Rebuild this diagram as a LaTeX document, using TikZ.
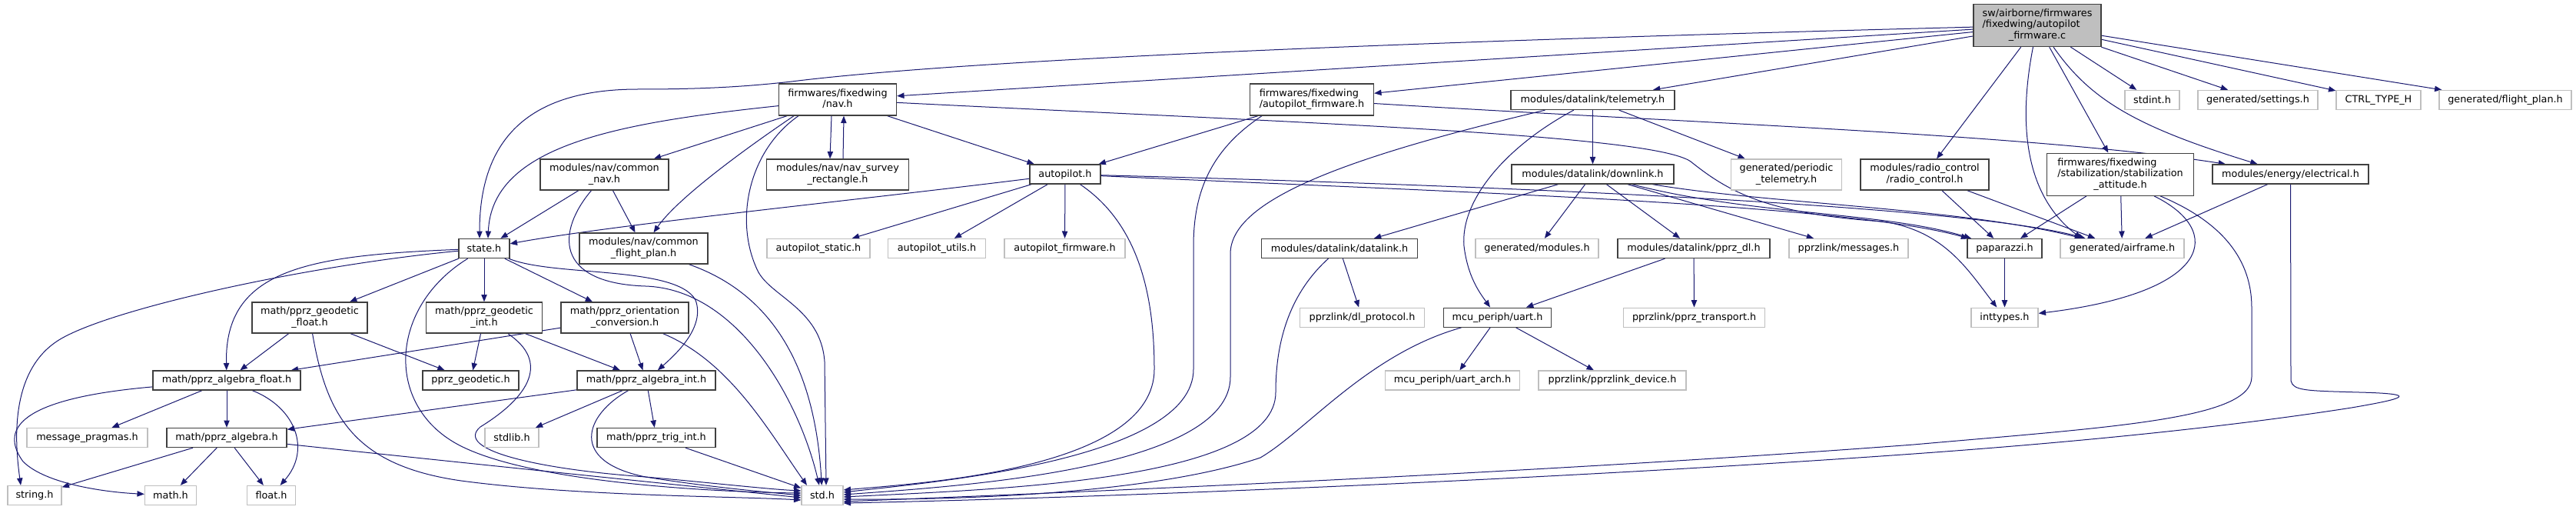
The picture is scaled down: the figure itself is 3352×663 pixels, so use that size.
\documentclass[tikz,border=0pt]{standalone}
\usepackage{fontspec}
\setmainfont{DejaVu Sans}
\usetikzlibrary{arrows.meta,calc}
\pgfdeclarelayer{edgelayer}
\pgfsetlayers{edgelayer,main}
\definecolor{edgeblue}{HTML}{191970}
\definecolor{docgray}{HTML}{404040}
\definecolor{extgray}{HTML}{BFBFBF}
\definecolor{mainfill}{HTML}{BFBFBF}
\newcommand\twol[2]{\begin{tabular}{@{}l@{}}#1\\\multicolumn{1}{@{}c@{}}{#2}\end{tabular}}
\newcommand\threel[3]{\begin{tabular}{@{}l@{}}#1\\#2\\\multicolumn{1}{@{}c@{}}{#3}\end{tabular}}
\begin{document}
\begin{tikzpicture}[x=0.75pt,y=-0.75pt,
 bx/.style 2 args={minimum width=#1*0.75pt,minimum height=#2*0.75pt},
 nd/.style={rectangle,inner sep=0pt,line width=1pt,font=\fontsize{9.6}{10.9}\selectfont,fill=white},
 doc/.style={nd,draw=docgray},
 ext/.style={nd,draw=extgray},
 root/.style={nd,draw=docgray,fill=mainfill},
 dep/.style={draw=edgeblue,line width=0.75pt,-{Triangle[length=7pt,width=5.5pt]}}]
\useasboundingbox (0,0) rectangle (3352,663);
% nodes
\node[root,bx={166}{55}] (main) at (2651,33) {\threel{sw/airborne/firmwares}{/fixedwing/autopilot}{\_firmware.c}};
\node[doc,bx={153}{41}] (navh) at (1090,129.5) {\twol{firmwares/fixedwing}{/nav.h}};
\node[doc,bx={161}{41}] (apfw) at (1707,129.5) {\twol{firmwares/fixedwing}{/autopilot\_firmware.h}};
\node[doc,bx={213}{25}] (telem) at (2072.5,130) {modules/datalink/telemetry.h};
\node[ext,bx={71}{25}] (stdint) at (2800.5,130) {stdint.h};
\node[ext,bx={156}{25}] (settings) at (2938,130) {generated/settings.h};
\node[ext,bx={110}{25}] (ctrl) at (3095,130) {CTRL\_TYPE\_H};
\node[ext,bx={172}{25}] (fplan) at (3260,130) {generated/flight\_plan.h};
\node[doc,bx={167}{40}] (cnav) at (786.5,227) {\twol{modules/nav/common}{\_nav.h}};
\node[doc,bx={185}{40}] (survey) at (1090,227) {\twol{modules/nav/nav\_survey}{\_rectangle.h}};
\node[doc,bx={92}{25}] (ap) at (1386,226.5) {autopilot.h};
\node[doc,bx={211}{25}] (downlink) at (2072.5,226.5) {modules/datalink/downlink.h};
\node[ext,bx={144}{40}] (periodic) at (2324.5,227) {\twol{generated/periodic}{\_telemetry.h}};
\node[doc,bx={167}{40}] (radio) at (2504.5,227) {\twol{modules/radio\_control}{/radio\_control.h}};
\node[doc,bx={191}{55}] (stab) at (2759,226.7) {\threel{firmwares/fixedwing}{/stabilization/stabilization}{\_attitude.h}};
\node[doc,bx={203}{25}] (elec) at (2980.5,226.5) {modules/energy/electrical.h};
\node[doc,bx={66}{25}] (state) at (630,323) {state.h};
\node[doc,bx={167}{40}] (cfp) at (837.5,323) {\twol{modules/nav/common}{\_flight\_plan.h}};
\node[ext,bx={134}{25}] (apstatic) at (1065,323) {autopilot\_static.h};
\node[ext,bx={127}{25}] (aputils) at (1219,323) {autopilot\_utils.h};
\node[ext,bx={157}{25}] (apfirm) at (1385.5,323) {autopilot\_firmware.h};
\node[doc,bx={203}{25}] (datalink) at (1743,323) {modules/datalink/datalink.h};
\node[ext,bx={160}{25}] (modules) at (2000,323) {generated/modules.h};
\node[doc,bx={198}{25}] (pprzdl) at (2204,323) {modules/datalink/pprz\_dl.h};
\node[ext,bx={155}{25}] (messages) at (2405.5,323) {pprzlink/messages.h};
\node[doc,bx={97}{25}] (paparazzi) at (2608.5,323) {paparazzi.h};
\node[ext,bx={161}{25}] (airframe) at (2761.5,323) {generated/airframe.h};
\node[doc,bx={150}{40}] (geofloat) at (403,413) {\twol{math/pprz\_geodetic}{\_float.h}};
\node[doc,bx={151}{40}] (geoint) at (630,413) {\twol{math/pprz\_geodetic}{\_int.h}};
\node[doc,bx={166}{40}] (orient) at (813,413) {\twol{math/pprz\_orientation}{\_conversion.h}};
\node[ext,bx={162}{25}] (dlproto) at (1772.5,412.7) {pprzlink/dl\_protocol.h};
\node[doc,bx={140}{25}] (uart) at (1948.5,412.7) {mcu\_periph/uart.h};
\node[ext,bx={184}{25}] (transport) at (2204.6,412.7) {pprzlink/pprz\_transport.h};
\node[ext,bx={87}{25}] (inttypes) at (2608.5,412.7) {inttypes.h};
\node[doc,bx={192}{25}] (algfloat) at (295,494.5) {math/pprz\_algebra\_float.h};
\node[doc,bx={125}{25}] (geodetic) at (612.5,494.5) {pprz\_geodetic.h};
\node[doc,bx={180}{25}] (algint) at (841,494.5) {math/pprz\_algebra\_int.h};
\node[ext,bx={175}{25}] (uartarch) at (1890,494.5) {mcu\_periph/uart\_arch.h};
\node[ext,bx={192}{25}] (device) at (2098,494.5) {pprzlink/pprzlink\_device.h};
\node[ext,bx={157}{25}] (pragmas) at (113.5,569) {message\_pragmas.h};
\node[doc,bx={156}{25}] (algebra) at (295,569) {math/pprz\_algebra.h};
\node[ext,bx={70}{25}] (stdlib) at (666,569) {stdlib.h};
\node[doc,bx={154}{25}] (trigint) at (854,569) {math/pprz\_trig\_int.h};
\node[ext,bx={70}{25}] (stringh) at (45,644) {string.h};
\node[ext,bx={67}{25}] (mathh) at (222,644) {math.h};
\node[ext,bx={63}{25}] (floath) at (353,644) {float.h};
\node[ext,bx={54}{25}] (std) at (1070,644) {std.h};
\begin{pgfonlayer}{edgelayer}
\fill[white] (0,0) rectangle (3352,663);
% main
\draw[dep] (main) .. controls (1600,60) and (1200,85) .. (1030,106) .. controls (960,114) and (900,116) .. (830,116) .. controls (700,116) and (624,170) .. ($(state.north)+(-6,0)$);
\draw[dep] (main) -- (navh);
\draw[dep] (main) -- (apfw);
\draw[dep] (main) -- (telem);
\draw[dep] (main) -- (radio);
\draw[dep] (main) .. controls (2628,150) and (2630,250) .. ($(airframe.north west)+(28,0)$);
\draw[dep] (main) -- (stab);
\draw[dep] ($(main.south)+(21,0)$) .. controls (2720,130) and (2780,165) .. (elec);
\draw[dep] (main) -- (stdint);
\draw[dep] (main) -- (settings);
\draw[dep] (main) -- (ctrl);
\draw[dep] (main) -- (fplan);
% nav.h
\draw[dep] (navh) .. controls (800,160) and (640,190) .. ($(state.north)+(5,0)$);
\draw[dep] (navh) -- (cnav);
\draw[dep] ($(navh.south)+(-57,0)$) .. controls (960,200) and (880,260) .. ($(cfp.north)+(13,0)$);
\draw[dep] ($(navh.south)+(-51,0)$) .. controls (975,195) and (955,285) .. (985,350) .. controls (1000,385) and (1068,400) .. (1073,470) -- ($(std.north)+(5,0)$);
\draw[dep] ($(navh.south)+(-8,0)$) -- ($(survey.north)+(-10,0)$);
\draw[dep] ($(survey.north)+(7,0)$) -- ($(navh.south)+(8,0)$);
\draw[dep] (navh) -- (ap);
\draw[dep] (navh) .. controls (1700,160) and (2150,175) .. (2200,210) .. controls (2250,250) and (2300,278) .. (2450,288) .. controls (2530,300) and (2560,350) .. (inttypes);
% autopilot_firmware.h (fixedwing)
\draw[dep] (apfw) -- (ap);
\draw[dep] ($(apfw.south)+(-65,0)$) .. controls (1575,195) and (1553,250) .. (1553,320) -- (1553,480) .. controls (1553,600) and (1200,628) .. ($(std.east)+(0,-4)$);
\draw[dep] (apfw) .. controls (2200,160) and (2650,175) .. (elec);
% telemetry
\draw[dep] (telem) -- (downlink);
\draw[dep] (telem) -- (periodic);
\draw[dep] (telem) .. controls (1960,190) and (1900,260) .. (1905,320) .. controls (1910,360) and (1925,380) .. (uart);
\draw[dep] ($(telem.south)+(-62,0)$) .. controls (1750,205) and (1601,260) .. (1601,330) -- (1601,490) .. controls (1601,610) and (1250,632) .. ($(std.east)+(0,-1)$);
% downlink
\draw[dep] (downlink) -- (datalink);
\draw[dep] (downlink) -- (modules);
\draw[dep] (downlink) -- (pprzdl);
\draw[dep] (downlink) -- (messages);
\draw[dep] (downlink) .. controls (2280,280) and (2450,275) .. (paparazzi);
\draw[dep] (downlink) .. controls (2300,265) and (2550,270) .. (airframe);
% autopilot.h
\draw[dep] (ap) .. controls (1100,262) and (800,292) .. (state);
\draw[dep] (ap) -- (apstatic);
\draw[dep] (ap) -- (aputils);
\draw[dep] (ap) -- (apfirm);
\draw[dep] (ap) .. controls (1480,290) and (1502,380) .. (1502,480) .. controls (1502,610) and (1200,628) .. ($(std.east)+(0,-7)$);
\draw[dep] (ap) .. controls (1900,250) and (2400,265) .. (paparazzi);
\draw[dep] (ap) .. controls (1900,240) and (2550,265) .. (airframe);
% common_nav
\draw[dep] (cnav) -- (state);
\draw[dep] (cnav) -- (cfp);
\draw[dep] ($(cnav.south)+(-17,0)$) .. controls (725,300) and (720,368) .. (840,372) .. controls (960,376) and (1040,520) .. ($(std.north)+(-4,0)$);
\draw[dep] (cfp) .. controls (1000,380) and (1060,470) .. (std);
% state.h
\draw[dep] (state) -- (geofloat);
\draw[dep] (state) -- (geoint);
\draw[dep] (state) -- (orient);
\draw[dep] (state) .. controls (400,332) and (292,350) .. (algfloat);
\draw[dep] (state) .. controls (400,345) and (150,400) .. (80,440) .. controls (10,480) and (20,580) .. ($(stringh.north)+(-18,0)$);
\draw[dep] (state) .. controls (505,400) and (500,530) .. (600,580) .. controls (700,630) and (950,640) .. ($(std.west)+(0,-3)$);
\draw[dep] (state) .. controls (720,360) and (880,345) .. (905,390) .. controls (918,425) and (880,460) .. (algint);
% geodetic float / int, orientation
\draw[dep] (geofloat) -- (algfloat);
\draw[dep] (geofloat) -- (geodetic);
\draw[dep] (geofloat) .. controls (425,540) and (460,605) .. (600,625) .. controls (750,645) and (950,645) .. ($(std.west)+(0,6)$);
\draw[dep] (geoint) -- (geodetic);
\draw[dep] (geoint) -- (algint);
\draw[dep] (geoint) .. controls (715,470) and (690,515) .. (625,555) .. controls (590,585) and (700,610) .. (840,620) .. controls (930,628) and (1000,636) .. ($(std.west)+(0,-6)$);
\draw[dep] (orient) -- (algfloat);
\draw[dep] (orient) -- (algint);
\draw[dep] (orient) .. controls (950,470) and (1000,560) .. ($(std.north)+(-20,0)$);
% algebra
\draw[dep] (algfloat) -- (pragmas);
\draw[dep] (algfloat) -- (algebra);
\draw[dep] (algfloat) .. controls (385,530) and (405,585) .. (floath);
\draw[dep] (algfloat) .. controls (60,515) and (-10,545) .. (30,600) .. controls (60,630) and (140,640) .. (mathh);
\draw[dep] (algint) -- (algebra);
\draw[dep] (algint) -- (stdlib);
\draw[dep] (algint) -- (trigint);
\draw[dep] (algint) .. controls (760,540) and (740,600) .. (840,620) .. controls (920,633) and (1000,640) .. ($(std.west)+(0,0)$);
\draw[dep] (algebra) -- (stringh);
\draw[dep] (algebra) -- (mathh);
\draw[dep] (algebra) -- (floath);
\draw[dep] (algebra) .. controls (700,612) and (900,632) .. ($(std.west)+(0,3)$);
\draw[dep] (trigint) -- (std);
% datalink side
\draw[dep] (datalink) -- (dlproto);
\draw[dep] (datalink) .. controls (1680,380) and (1660,440) .. (1660,510) .. controls (1660,625) and (1300,636) .. ($(std.east)+(0,2)$);
\draw[dep] (pprzdl) -- (uart);
\draw[dep] (pprzdl) -- (transport);
\draw[dep] (uart) -- (uartarch);
\draw[dep] (uart) -- (device);
\draw[dep] (uart) .. controls (1780,460) and (1700,560) .. (1640,595) .. controls (1500,642) and (1250,650) .. ($(std.east)+(0,5)$);
% right side
\draw[dep] (radio) -- (paparazzi);
\draw[dep] (radio) -- (airframe);
\draw[dep] (paparazzi) -- (inttypes);
\draw[dep] (stab) -- (paparazzi);
\draw[dep] (stab) -- (airframe);
\draw[dep] ($(stab.south)+(44,0)$) .. controls (2895,300) and (2880,380) .. (inttypes);
\draw[dep] ($(stab.south)+(52,0)$) .. controls (2895,290) and (2930,340) .. (2930,400) -- (2930,490) .. controls (2930,545) and (2750,555) .. (2490,578) .. controls (2000,615) and (1400,640) .. ($(std.east)+(0,8)$);
\draw[dep] (elec) -- (airframe);
\draw[dep] (elec) -- (2981,495) .. controls (2984,508) and (3000,508) .. (3070,510) .. controls (3150,512) and (3130,518) .. (3060,530) .. controls (2900,555) and (2700,575) .. (2490,590) .. controls (2000,625) and (1400,648) .. ($(std.east)+(0,10)$);
\end{pgfonlayer}
\end{tikzpicture}
\end{document}
